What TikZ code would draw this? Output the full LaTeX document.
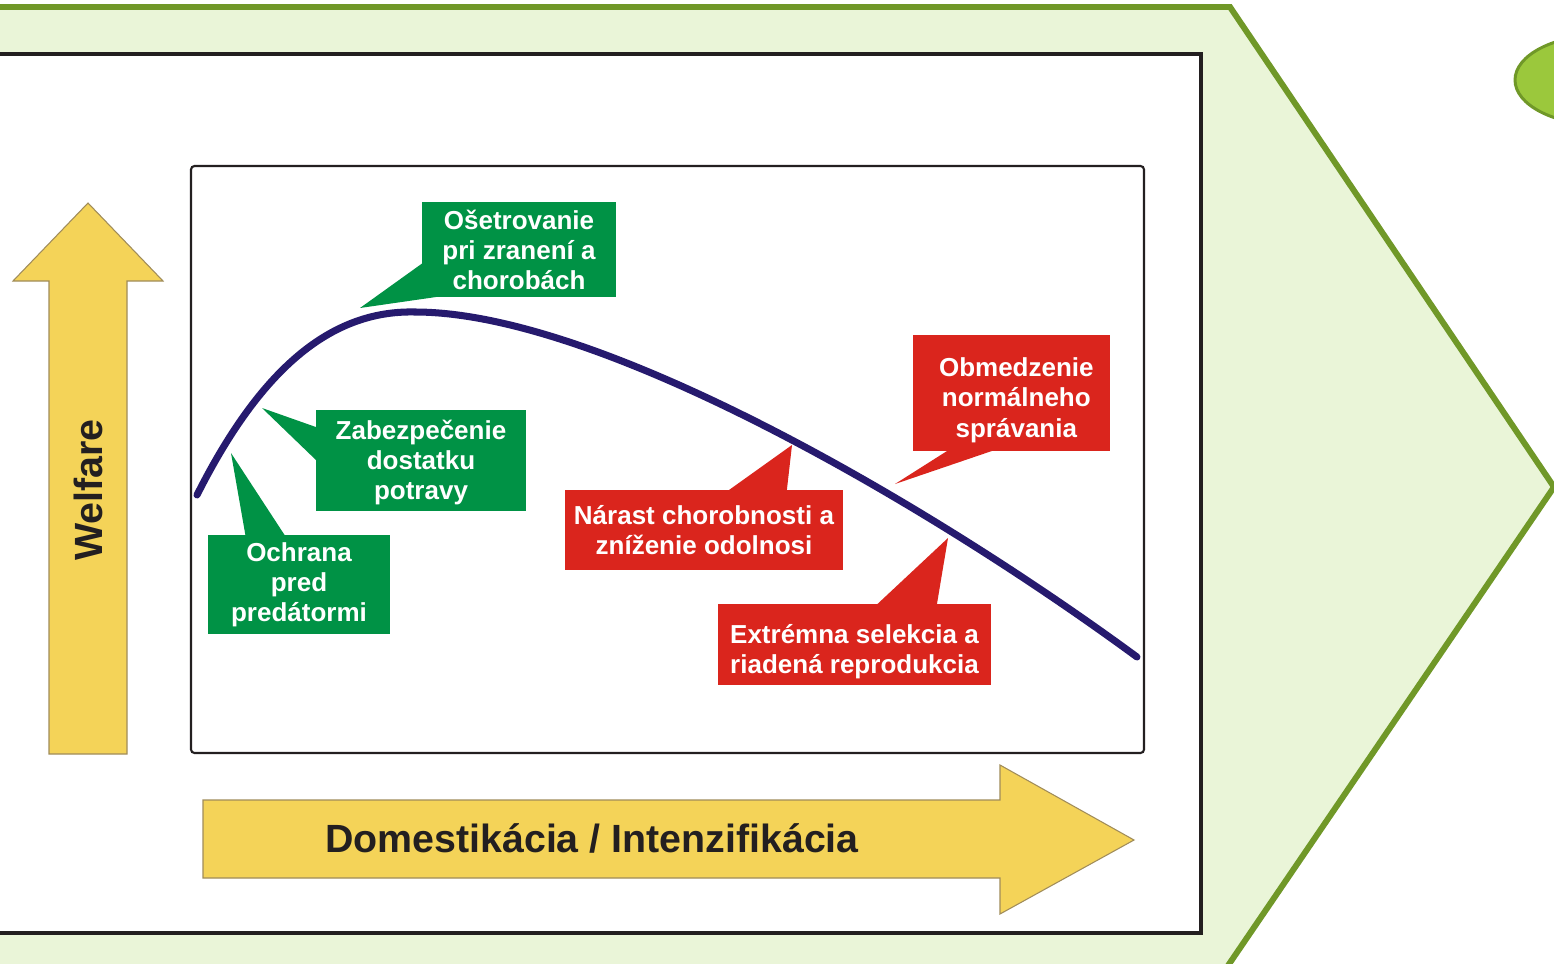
\documentclass[tikz,border=0pt]{standalone}
\usepackage{fontspec}
\setmainfont{Liberation Sans}
\usetikzlibrary{calc}

\definecolor{chevfill}{RGB}{234,245,216}
\definecolor{chevline}{RGB}{112,152,40}
\definecolor{leaffill}{RGB}{155,200,60}
\definecolor{arrowyellow}{RGB}{244,211,88}
\definecolor{arrowedge}{RGB}{160,140,90}
\definecolor{okgreen}{RGB}{0,146,69}
\definecolor{badred}{RGB}{218,37,29}
\definecolor{curvenavy}{RGB}{38,26,110}
\definecolor{framedark}{RGB}{35,31,32}

\begin{document}
\begin{tikzpicture}[x=0.02cm,y=-0.02cm,
    box/.style={inner sep=0pt,text=white,align=center,
      font=\fontsize{14.8}{17.1}\selectfont\bfseries},
    green box/.style={box,fill=okgreen},
    red box/.style={box,fill=badred},
    yellow arrow/.style={fill=arrowyellow,draw=arrowedge,line width=0.6pt},
    big label/.style={text=framedark,font=\fontsize{22.4}{26}\selectfont\bfseries}]
    \useasboundingbox (0,0) rectangle (1554,963);
    \clip (0,0) rectangle (1554,963);

    % background chevron and frames
    \draw[fill=chevfill,draw=chevline,line width=3.4pt]
      (-20,7) -- (1230,7) -- (1554,487) -- (1225,970) -- (-20,970) -- cycle;
    \draw[fill=leaffill,draw=chevline,line width=1.7pt]
      (1602,80) ellipse [x radius=87, y radius=45];
    \draw[fill=white,draw=framedark,line width=2.8pt] (-10,54) rectangle (1201,933);
    \draw[draw=framedark,line width=1.2pt,rounded corners=2pt] (191,166) rectangle (1144,753);

    % axes
    \draw[yellow arrow] (49,754) -- (49,281) -- (13,281) -- (88,203)
      -- (163,281) -- (127,281) -- (127,754) -- cycle;
    \node[big label,rotate=90] (welfare) at (88,490) {Welfare};
    \draw[yellow arrow] (203,800) -- (1000,800) -- (1000,765) -- (1134,840)
      -- (1000,914) -- (1000,878) -- (203,878) -- cycle;
    \node[big label] (axis) at (592,838) {Domestikácia / Intenzifikácia};

    % callouts
    \node[green box,minimum width=3.88cm,minimum height=1.9cm] (treat) at (519,249.5)
      {Ošetrovanie\\pri zranení a\\chorobách};
    \node[green box,minimum width=4.2cm,minimum height=2.02cm] (food) at (421,460.5)
      {\rule{0pt}{13.5pt}Zabezpečenie\\dostatku\\potravy};
    \node[green box,minimum width=3.64cm,minimum height=1.98cm] (pred) at (299,584.5)
      {Ochrana\\pred\\predátormi};
    \node[red box,minimum width=3.94cm,minimum height=2.32cm] (behav) at (1011.5,393)
      {\rule{0pt}{19pt}\hspace{5.5pt}Obmedzenie\\\hspace{5.5pt}normálneho\\\hspace{5.5pt}správania};
    \node[red box,minimum width=5.56cm,minimum height=1.6cm] (disease) at (704,530)
      {Nárast chorobnosti a\\zníženie odolnosi};
    \node[red box,minimum width=5.46cm,minimum height=1.62cm] (select) at (854.5,644.5)
      {\rule{0pt}{19pt}Extrémna selekcia a\\riadená reprodukcia};

    \coordinate (treat tip) at (360,308);
    \coordinate (food tip) at (262,408);
    \coordinate (pred tip) at (231,453);
    \coordinate (behav tip) at (895,484);
    \coordinate (disease tip) at (792,445);
    \coordinate (select tip) at (948,538);

    \fill[okgreen] ($(treat.south west)+(2,-35)$) -- (treat tip) -- ($(treat.south west)+(26,-2)$) -- cycle;
    \fill[okgreen] ($(food.north west)+(2,18)$) -- (food tip) -- ($(food.north west)+(2,52)$) -- cycle;
    \fill[okgreen] ($(pred.north west)+(38,2)$) -- (pred tip) -- ($(pred.north west)+(78,2)$) -- cycle;
    \fill[badred] ($(behav.south west)+(37,-2)$) -- (behav tip) -- ($(behav.south west)+(84,-2)$) -- cycle;
    \fill[badred] ($(disease.north west)+(162,2)$) -- (disease tip) -- ($(disease.north west)+(222,2)$) -- cycle;
    \fill[badred] ($(select.north west)+(158,2)$) -- (select tip) -- ($(select.north west)+(219,2)$) -- cycle;

    % welfare curve
    \draw[curvenavy,line width=4pt,line cap=round]
      (197,495) .. controls (260,370) and (330,310) .. (415,312)
      .. controls (600,312) and (930,505) .. (1137,657);
\end{tikzpicture}
\end{document}
